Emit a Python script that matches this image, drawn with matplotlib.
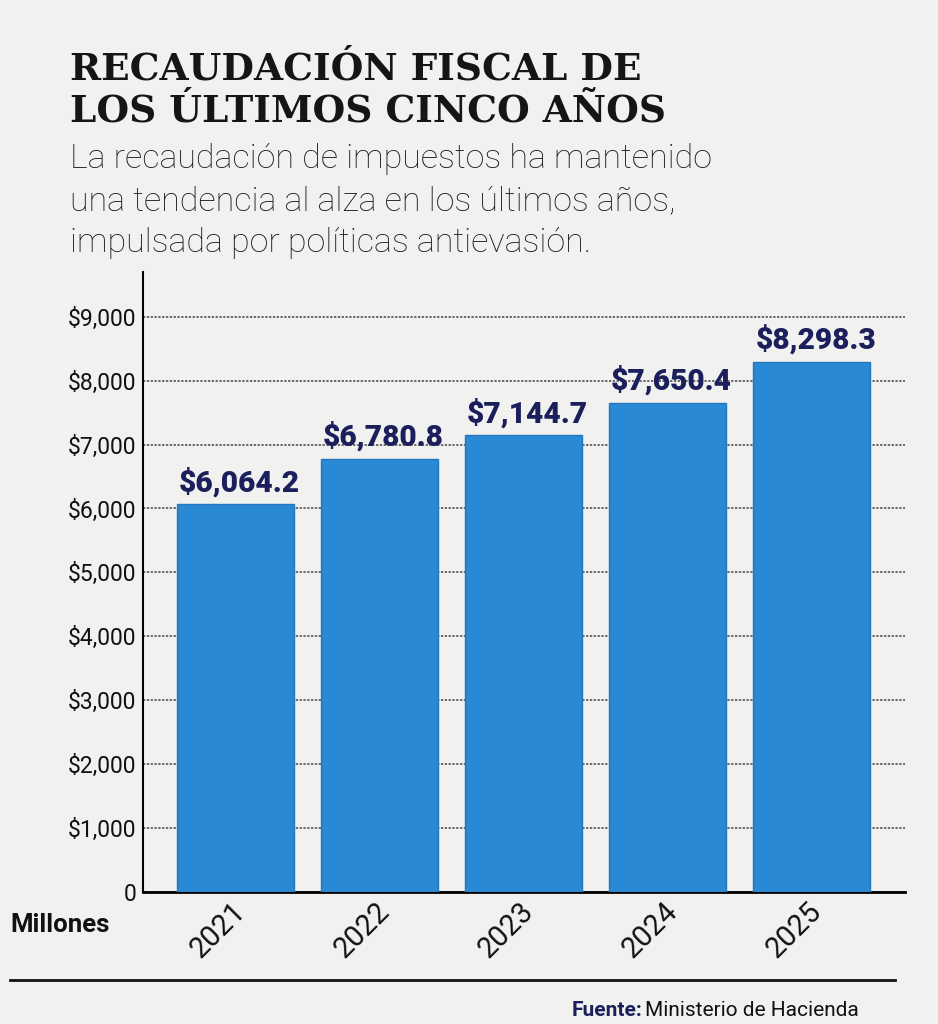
import numpy as np
import matplotlib
matplotlib.use('Agg')
import matplotlib.pyplot as plt
import matplotlib.transforms as mtransforms
from matplotlib.ticker import FuncFormatter

# data
years = ['2021', '2022', '2023', '2024', '2025']
recaudacion = [6064.2, 6780.8, 7144.7, 7650.4, 8298.3]  # millones
yticks = [0, 1000, 2000, 3000, 4000, 5000, 6000, 7000, 8000, 9000]

title_lines = ['RECAUDACIÓN FISCAL DE', 'LOS ÚLTIMOS CINCO AÑOS']
subtitle_lines = ['La recaudación de impuestos ha mantenido',
                  'una tendencia al alza en los últimos años,',
                  'impulsada por políticas antievasión.']

# colours
bg = '#f1f1ef'
barColor = '#2a89d4'
labelColor = '#1b1f5c'

W, H = 938, 1024
fig = plt.figure(figsize=[W/100., H/100.], dpi=100, facecolor=bg)

def fy(py):
    return 1 - py/float(H)

def fx(px):
    return px/float(W)

ax = fig.add_axes([fx(143), fy(892), fx(905) - fx(143), fy(272) - fy(892)])
ax.set_facecolor(bg)

x = np.arange(len(years))
ax.bar(x, recaudacion, width=0.81, color=barColor, edgecolor='#2478bd', linewidth=1, zorder=3)

for xi, v in zip(x, recaudacion):
    ax.text(xi + 0.03, v + 110, '${:,.1f}'.format(v), ha='center', va='bottom',
            fontsize=21.5, fontweight='heavy', color=labelColor, family='Roboto', zorder=4)

ax.set_xlim(-0.64, 4.65)
ax.set_ylim(0, 9700)
ax.set_yticks(yticks)
ax.yaxis.set_major_formatter(FuncFormatter(lambda v, p: '0' if v == 0 else '${:,.0f}'.format(v)))
ax.grid(axis='y', linestyle=(0, (1.5, 1)), color='#444444', linewidth=1.1, zorder=1)
ax.set_axisbelow(True)

for s in ['top', 'right']:
    ax.spines[s].set_visible(False)
ax.spines['left'].set_linewidth(1.5)
ax.spines['bottom'].set_linewidth(2)
ax.tick_params(axis='y', length=0, pad=5, labelsize=16.5, colors='#111111')
ax.tick_params(axis='x', length=0, pad=4)
for lab in ax.get_yticklabels():
    lab.set_family('Roboto')

ax.set_xticks(x)
ax.set_xticklabels(years, rotation=45, ha='right', va='top', rotation_mode='anchor',
                   fontsize=21, family='Roboto', color='#111111')
# shift the rotated year labels to sit under each bar
offset = mtransforms.ScaledTranslation(-0.04, 0.0, fig.dpi_scale_trans)
for lab in ax.get_xticklabels():
    lab.set_transform(lab.get_transform() + offset)

# title / subtitle
fig.text(fx(70), fy(80), title_lines[0], fontsize=27, fontweight='bold',
         family='DejaVu Serif', color='#151515', va='baseline')
fig.text(fx(70), fy(122), title_lines[1], fontsize=27, fontweight='bold',
         family='DejaVu Serif', color='#151515', va='baseline')
for i, line in enumerate(subtitle_lines):
    fig.text(fx(70), fy(168 + 42*i), line, fontsize=24.5, fontweight='light',
             family='Roboto', color='#1a1a1a', va='baseline')

fig.text(fx(10), fy(925), 'Millones', fontsize=18.5, fontweight='bold',
         family='Roboto', color='#111111', va='center')

# rule and source at the bottom
fig.add_artist(plt.Line2D([fx(10), fx(895)], [fy(980), fy(980)], color='#111111', linewidth=2))
fig.text(fx(572), fy(1016), 'Fuente:', fontsize=15, fontweight='bold', family='Roboto',
         color=labelColor, va='baseline')
fig.text(fx(645), fy(1016), 'Ministerio de Hacienda', fontsize=15, family='Roboto',
         color='#111111', va='baseline')

fig.savefig('out.png', dpi=100, facecolor=bg)
